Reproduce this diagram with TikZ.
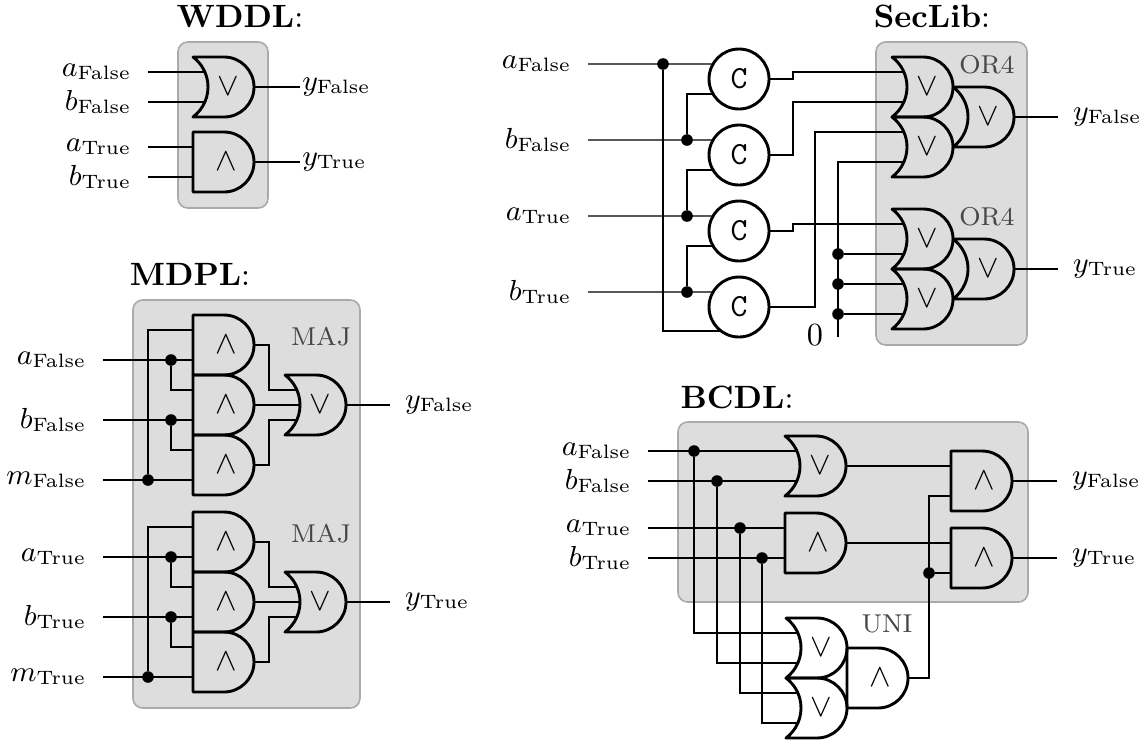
\documentclass[tikz,border=0pt]{standalone}
\usepackage{amsmath}
\usepackage{tikz}
\usetikzlibrary{calc}
\definecolor{boxgray}{RGB}{221,221,221}
\definecolor{boxline}{RGB}{170,170,170}
\definecolor{notegray}{RGB}{70,70,70}

\tikzset{
  gateline/.style={line width=0.9pt,line join=round},
  wire/.style={line width=0.45pt},
  blk/.style={fill=boxgray,draw=boxline,line width=0.5pt,rounded corners=3pt},
  dot/.style={circle,fill,inner sep=0pt,minimum size=3.6pt},
  celem/.style={draw,circle,line width=0.9pt,minimum size=18.6pt,inner sep=0pt,outer sep=0pt,font=\ttfamily},
  inlbl/.style={anchor=east,inner xsep=5pt,font=\small},
  outlbl/.style={anchor=west,inner xsep=4.5pt,font=\small},
  title/.style={anchor=base},
  note/.style={anchor=base,text=notegray,font=\footnotesize},
  andgate/.pic={
    \draw[gateline] (0,30) -- (31,30) arc[start angle=90,end angle=-90,radius=30] -- (0,-30) -- cycle;
    \node (-sym) at (33,0) {$\wedge$};
    \coordinate (-in1) at (0,15);
    \coordinate (-in2) at (0,-15);
    \coordinate (-out) at (61,0);
  },
  orgate/.pic={
    \draw[gateline] (0,30) -- (31,30) arc[start angle=90,end angle=-90,radius=30] -- (0,-30)
      arc[start angle=-53.13,end angle=53.13,radius=37.5] -- cycle;
    \node (-sym) at (35,0) {$\vee$};
    \coordinate (-in1) at (12,15);
    \coordinate (-in2) at (12,-15);
    \coordinate (-mid) at (15,0);
    \coordinate (-out) at (61,0);
  }
}

\begin{document}
\begin{tikzpicture}[x=0.31pt,y=0.31pt]
\useasboundingbox (0,0) rectangle (1142,-742);

% WDDL
\node[title] (twddl) at (240,-27) {\textbf{WDDL}:};
\draw[blk] (178,-42) rectangle (268,-208);
\pic (wor) at (193,-87) {orgate};
\pic (wand) at (193,-162) {andgate};
\node[inlbl] (waF) at (148,-72) {$a_\text{False}$};
\node[inlbl] (wbF) at (148,-102) {$b_\text{False}$};
\node[inlbl] (waT) at (148,-147) {$a_\text{True}$};
\node[inlbl] (wbT) at (148,-177) {$b_\text{True}$};
\node[outlbl,inner xsep=0.5pt] (wyF) at (300,-87) {$y_\text{False}$};
\node[outlbl,inner xsep=0.5pt] (wyT) at (300,-162) {$y_\text{True}$};
\draw[wire] (waF.east) -- (wor-in1);
\draw[wire] (wbF.east) -- (wor-in2);
\draw[wire] (waT.east) -- (wand-in1);
\draw[wire] (wbT.east) -- (wand-in2);
\draw[wire] (wor-out) -- (wyF.west);
\draw[wire] (wand-out) -- (wyT.west);

% MDPL
\node[title] (tmdpl) at (190,-285) {\textbf{MDPL}:};
\draw[blk] (133,-300) rectangle (360,-708);
\foreach \v/\s in {False/0,True/197}{
  \begin{scope}[shift={(0,-\s)}]
    \pic (m\v1) at (193,-345) {andgate};
    \pic (m\v2) at (193,-405) {andgate};
    \pic (m\v3) at (193,-465) {andgate};
    \pic (mor\v) at (285,-405) {orgate};
    \node[note] (maj\v) at (321,-345) {MAJ};
    \node[inlbl] (ma\v) at (103,-360) {$a_\text{\v}$};
    \node[inlbl] (mb\v) at (103,-420) {$b_\text{\v}$};
    \node[inlbl] (mm\v) at (103,-480) {$m_\text{\v}$};
    \node[outlbl] (my\v) at (390,-405) {$y_\text{\v}$};
    \node[dot] (mda\v) at (171,-360) {};
    \node[dot] (mdb\v) at (171,-420) {};
    \node[dot] (mdm\v) at (148,-480) {};
    \draw[wire] (ma\v.east) -- (m\v1-in2);
    \draw[wire] (mb\v.east) -- (m\v2-in2);
    \draw[wire] (mm\v.east) -- (m\v3-in2);
    \draw[wire] (mda\v) |- (m\v2-in1);
    \draw[wire] (mdb\v) |- (m\v3-in1);
    \draw[wire] (mdm\v) |- (m\v1-in1);
    \draw[wire] (m\v1-out) -- ++(15,0) |- (mor\v-in1);
    \draw[wire] (m\v2-out) -- (mor\v-mid);
    \draw[wire] (m\v3-out) -- ++(15,0) |- (mor\v-in2);
    \draw[wire] (mor\v-out) -- (my\v.west);
  \end{scope}
}

% SecLib
\node[title] (tsec) at (932,-27) {\textbf{SecLib}:};
\draw[blk] (876,-42) rectangle (1027,-345);
\foreach \n/\y in {1/79,2/155,3/231,4/307}
  \node[celem] (c\n) at (739,-\y) {C};
\pic (oFa) at (892,-87) {orgate};
\pic (oFb) at (892,-147) {orgate};
\pic (oF) at (953,-117) {orgate};
\pic (oTa) at (892,-239) {orgate};
\pic (oTb) at (892,-299) {orgate};
\pic (oT) at (953,-269) {orgate};
\node[note] (or4F) at (987,-73) {OR4};
\node[note] (or4T) at (987,-225) {OR4};
\node[inlbl] (saF) at (588,-64) {$a_\text{False}$};
\node[inlbl] (sbF) at (588,-140) {$b_\text{False}$};
\node[inlbl] (saT) at (588,-216) {$a_\text{True}$};
\node[inlbl] (sbT) at (588,-292) {$b_\text{True}$};
\node[outlbl] (syF) at (1058,-117) {$y_\text{False}$};
\node[outlbl] (syT) at (1058,-269) {$y_\text{True}$};
\node[dot] (sd1) at (663,-64) {};
\node[dot] (sd2) at (687,-140) {};
\node[dot] (sd3) at (687,-216) {};
\node[dot] (sd4) at (687,-292) {};
\draw[wire] (saF.east) -- (c1.150);
\draw[wire] (sbF.east) -- (c2.150);
\draw[wire] (saT.east) -- (c3.150);
\draw[wire] (sbT.east) -- (c4.150);
\draw[wire] (sd1) |- (c4.233);
\draw[wire] (sd2) |- (c1.210);
\draw[wire] (sd3) |- (c2.210);
\draw[wire] (sd4) |- (c3.210);
\draw[wire] (c1.east) -- ++(24,0) |- (oFa-in1);
\draw[wire] (c2.east) -- ++(24,0) |- (oFa-in2);
\draw[wire] (c3.east) -- ++(24,0) |- (oTa-in1);
\draw[wire] (c4.east) -- ++(46,0) |- (oFb-in1);
\coordinate (zero) at (838,-337);
\node[anchor=base,inner sep=0pt] (zlbl) at (815,-345) {0};
\draw[wire] (zero) |- (oFb-in2);
\foreach \n/\g in {1/oTa-in2,2/oTb-in1,3/oTb-in2}{
  \node[dot] (zd\n) at (zero |- \g) {};
  \draw[wire] (zd\n) -- (\g);
}
\draw[wire] (oF-out) -- (syF.west);
\draw[wire] (oT-out) -- (syT.west);

% BCDL
\node[title] (tbcdl) at (737,-408) {\textbf{BCDL}:};
\draw[blk] (678,-422) rectangle (1028,-602);
\pic (bo) at (785,-466) {orgate};
\pic (ba) at (785,-543) {andgate};
\pic (fa1) at (951,-481) {andgate};
\pic (fa2) at (951,-558) {andgate};
\pic (uo1) at (786,-648) {orgate};
\pic (uo2) at (786,-708) {orgate};
\pic (ua) at (847,-678) {andgate};
\node[note] (uni) at (887,-632) {UNI};
\node[inlbl] (baF) at (648,-451) {$a_\text{False}$};
\node[inlbl] (bbF) at (648,-481) {$b_\text{False}$};
\node[inlbl] (baT) at (648,-528) {$a_\text{True}$};
\node[inlbl] (bbT) at (648,-558) {$b_\text{True}$};
\node[outlbl] (byF) at (1057,-481) {$y_\text{False}$};
\node[outlbl] (byT) at (1057,-558) {$y_\text{True}$};
\node[dot] (bd1) at (694,-451) {};
\node[dot] (bd2) at (717,-481) {};
\node[dot] (bd3) at (740,-528) {};
\node[dot] (bd4) at (762,-558) {};
\draw[wire] (baF.east) -- (bo-in1);
\draw[wire] (bbF.east) -- (bo-in2);
\draw[wire] (baT.east) -- (ba-in1);
\draw[wire] (bbT.east) -- (ba-in2);
\draw[wire] (bd1) |- (uo1-in1);
\draw[wire] (bd2) |- (uo1-in2);
\draw[wire] (bd3) |- (uo2-in1);
\draw[wire] (bd4) |- (uo2-in2);
\draw[wire] (bo-out) -- (fa1-in1);
\draw[wire] (ba-out) -- (fa2-in1);
\draw[wire] (ua-out) -- ++(21,0) |- (fa1-in2);
\node[dot] (ud) at (929,-573) {};
\draw[wire] (ud) -- (fa2-in2);
\draw[wire] (fa1-out) -- (byF.west);
\draw[wire] (fa2-out) -- (byT.west);
\end{tikzpicture}
\end{document}
